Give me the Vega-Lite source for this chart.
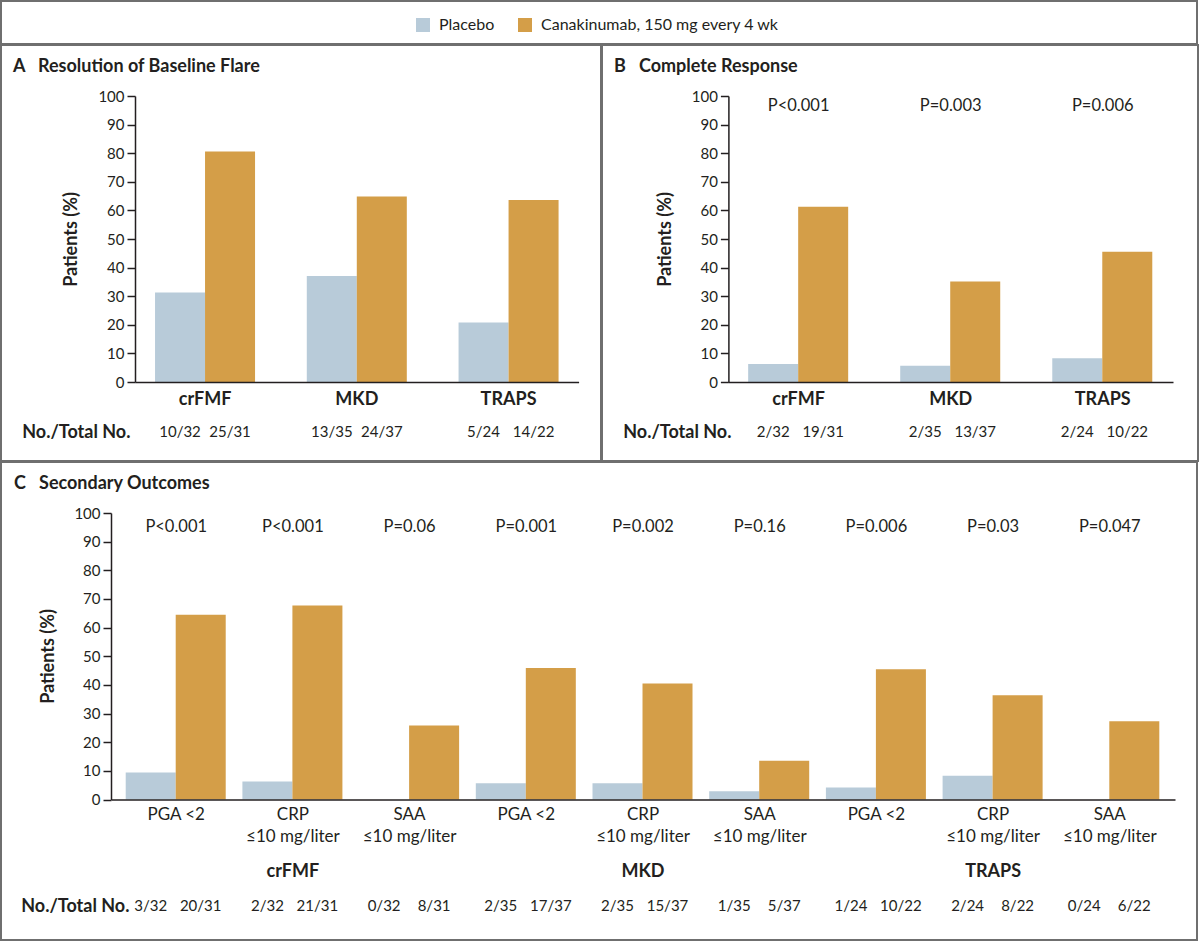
{
  "$schema": "https://vega.github.io/schema/vega-lite/v6.json",
  "background": "white",
  "padding": 0,
  "spacing": -2,
  "datasets": {
    "strip": [{"t": ""}],
    "A": [
      {"disease": "crFMF", "series": "Placebo", "value": 31.3, "count": "10/32"},
      {"disease": "crFMF", "series": "Canakinumab, 150 mg every 4 wk", "value": 80.6, "count": "25/31"},
      {"disease": "MKD", "series": "Placebo", "value": 37.1, "count": "13/35"},
      {"disease": "MKD", "series": "Canakinumab, 150 mg every 4 wk", "value": 64.9, "count": "24/37"},
      {"disease": "TRAPS", "series": "Placebo", "value": 20.8, "count": "5/24"},
      {"disease": "TRAPS", "series": "Canakinumab, 150 mg every 4 wk", "value": 63.6, "count": "14/22"}
    ],
    "B": [
      {"disease": "crFMF", "series": "Placebo", "value": 6.3, "count": "2/32"},
      {"disease": "crFMF", "series": "Canakinumab, 150 mg every 4 wk", "value": 61.3, "count": "19/31"},
      {"disease": "MKD", "series": "Placebo", "value": 5.7, "count": "2/35"},
      {"disease": "MKD", "series": "Canakinumab, 150 mg every 4 wk", "value": 35.1, "count": "13/37"},
      {"disease": "TRAPS", "series": "Placebo", "value": 8.3, "count": "2/24"},
      {"disease": "TRAPS", "series": "Canakinumab, 150 mg every 4 wk", "value": 45.5, "count": "10/22"}
    ],
    "Bp": [
      {"disease": "crFMF", "p": "P<0.001"},
      {"disease": "MKD", "p": "P=0.003"},
      {"disease": "TRAPS", "p": "P=0.006"}
    ],
    "C": [
      {"key": "crFMF PGA", "series": "Placebo", "value": 9.4, "count": "3/32"},
      {"key": "crFMF PGA", "series": "Canakinumab, 150 mg every 4 wk", "value": 64.5, "count": "20/31"},
      {"key": "crFMF CRP", "series": "Placebo", "value": 6.3, "count": "2/32"},
      {"key": "crFMF CRP", "series": "Canakinumab, 150 mg every 4 wk", "value": 67.7, "count": "21/31"},
      {"key": "crFMF SAA", "series": "Placebo", "value": 0, "count": "0/32"},
      {"key": "crFMF SAA", "series": "Canakinumab, 150 mg every 4 wk", "value": 25.8, "count": "8/31"},
      {"key": "MKD PGA", "series": "Placebo", "value": 5.7, "count": "2/35"},
      {"key": "MKD PGA", "series": "Canakinumab, 150 mg every 4 wk", "value": 45.9, "count": "17/37"},
      {"key": "MKD CRP", "series": "Placebo", "value": 5.7, "count": "2/35"},
      {"key": "MKD CRP", "series": "Canakinumab, 150 mg every 4 wk", "value": 40.5, "count": "15/37"},
      {"key": "MKD SAA", "series": "Placebo", "value": 2.9, "count": "1/35"},
      {"key": "MKD SAA", "series": "Canakinumab, 150 mg every 4 wk", "value": 13.5, "count": "5/37"},
      {"key": "TRAPS PGA", "series": "Placebo", "value": 4.2, "count": "1/24"},
      {"key": "TRAPS PGA", "series": "Canakinumab, 150 mg every 4 wk", "value": 45.5, "count": "10/22"},
      {"key": "TRAPS CRP", "series": "Placebo", "value": 8.3, "count": "2/24"},
      {"key": "TRAPS CRP", "series": "Canakinumab, 150 mg every 4 wk", "value": 36.4, "count": "8/22"},
      {"key": "TRAPS SAA", "series": "Placebo", "value": 0, "count": "0/24"},
      {"key": "TRAPS SAA", "series": "Canakinumab, 150 mg every 4 wk", "value": 27.3, "count": "6/22"}
    ],
    "Cp": [
      {"key": "crFMF PGA", "p": "P<0.001"},
      {"key": "crFMF CRP", "p": "P<0.001"},
      {"key": "crFMF SAA", "p": "P=0.06"},
      {"key": "MKD PGA", "p": "P=0.001"},
      {"key": "MKD CRP", "p": "P=0.002"},
      {"key": "MKD SAA", "p": "P=0.16"},
      {"key": "TRAPS PGA", "p": "P=0.006"},
      {"key": "TRAPS CRP", "p": "P=0.03"},
      {"key": "TRAPS SAA", "p": "P=0.047"}
    ],
    "Cd": [
      {"key": "crFMF CRP", "label": "crFMF"},
      {"key": "MKD CRP", "label": "MKD"},
      {"key": "TRAPS CRP", "label": "TRAPS"}
    ]
  },
  "vconcat": [
    {
      "width": 1196,
      "height": 43,
      "data": {"name": "strip"},
      "mark": {"type": "text"},
      "encoding": {
        "x": {"field": "t", "type": "nominal", "axis": null},
        "y": {"field": "t", "type": "nominal", "axis": null},
        "text": {"field": "t"}
      }
    },
    {
      "spacing": -2,
      "hconcat": [
        {
          "width": 600,
          "height": 416,
          "title": {"text": "A\u00a0\u00a0 Resolution of Baseline Flare", "anchor": "start", "frame": "group", "orient": "top", "offset": -44.7, "baseline": "alphabetic", "dx": 12, "fontSize": 18, "fontWeight": "bold"},
          "data": {"name": "A"},
          "encoding": {
            "x": {"field": "disease", "type": "nominal", "sort": null,
              "scale": {"range": [134, 577.6], "paddingInner": 0.341, "paddingOuter": 0.132},
              "axis": {"title": "No./Total No.", "orient": "bottom", "offset": -79, "ticks": false, "zindex": 1, "labelFontSize": 18, "labelFontWeight": "bold", "labelPadding": 8, "labelAngle": 0, "titleFontSize": 18, "titleFontWeight": "bold", "titleX": 129, "titleY": 50, "titleAlign": "right", "titleBaseline": "middle", "titleAngle": 0}}
          },
          "layer": [
            {
              "mark": {"type": "bar"},
              "encoding": {
                "xOffset": {"field": "series", "type": "nominal", "scale": {"domain": ["Placebo", "Canakinumab, 150 mg every 4 wk"], "paddingInner": 0, "paddingOuter": 0}},
                "y": {"field": "value", "type": "quantitative",
                  "scale": {"domain": [0, 100], "range": [337, 51], "nice": false},
                  "axis": {"title": "Patients (%)", "values": [0, 10, 20, 30, 40, 50, 60, 70, 80, 90, 100], "offset": -134, "tickSize": 8, "labelFontSize": 15, "labelPadding": 3, "titleFontSize": 18, "titleFontWeight": "bold", "titleX": -54.5, "titleY": 194, "titleBaseline": "bottom"}},
                "color": {"field": "series", "type": "nominal",
                  "scale": {"domain": ["Placebo", "Canakinumab, 150 mg every 4 wk"], "range": ["#b8cbd9", "#d49e48"]},
                  "legend": {"title": null, "orient": "none", "legendX": 414, "legendY": 16, "direction": "horizontal", "symbolType": "square", "symbolSize": 196, "symbolStrokeWidth": 0, "labelFontSize": 16, "labelOffset": 8, "columnPadding": 22, "labelLimit": 400}}
              }
            },
            {
              "mark": {"type": "text", "baseline": "middle", "dy": 50, "fontSize": 15},
              "encoding": {
                "xOffset": {"field": "series", "type": "nominal"},
                "y": {"datum": 0},
                "text": {"field": "count"}
              }
            }
          ]
        },
        {
          "width": 596,
          "height": 416,
          "title": {"text": "B\u00a0\u00a0 Complete Response", "anchor": "start", "frame": "group", "orient": "top", "offset": -44.7, "baseline": "alphabetic", "dx": 12, "fontSize": 18, "fontWeight": "bold"},
          "encoding": {
            "x": {"field": "disease", "type": "nominal", "sort": null,
              "scale": {"range": [126.4, 571], "paddingInner": 0.336, "paddingOuter": 0.13},
              "axis": {"title": "No./Total No.", "orient": "bottom", "offset": -79, "ticks": false, "zindex": 1, "labelFontSize": 18, "labelFontWeight": "bold", "labelPadding": 8, "labelAngle": 0, "titleFontSize": 18, "titleFontWeight": "bold", "titleX": 129, "titleY": 50, "titleAlign": "right", "titleBaseline": "middle", "titleAngle": 0}}
          },
          "layer": [
            {
              "data": {"name": "B"},
              "mark": {"type": "bar"},
              "encoding": {
                "xOffset": {"field": "series", "type": "nominal", "scale": {"domain": ["Placebo", "Canakinumab, 150 mg every 4 wk"], "paddingInner": 0, "paddingOuter": 0}},
                "y": {"field": "value", "type": "quantitative",
                  "scale": {"domain": [0, 100], "range": [337, 51], "nice": false},
                  "axis": {"title": "Patients (%)", "values": [0, 10, 20, 30, 40, 50, 60, 70, 80, 90, 100], "offset": -126.4, "tickSize": 8, "labelFontSize": 15, "labelPadding": 3, "titleFontSize": 18, "titleFontWeight": "bold", "titleX": -54.4, "titleY": 194, "titleBaseline": "bottom"}},
                "color": {"field": "series", "type": "nominal",
                  "scale": {"domain": ["Placebo", "Canakinumab, 150 mg every 4 wk"], "range": ["#b8cbd9", "#d49e48"]},
                  "legend": {"title": null, "orient": "none", "legendX": 414, "legendY": 16, "direction": "horizontal", "symbolType": "square", "symbolSize": 196, "symbolStrokeWidth": 0, "labelFontSize": 16, "labelOffset": 8, "columnPadding": 22, "labelLimit": 400}}
              }
            },
            {
              "data": {"name": "B"},
              "mark": {"type": "text", "baseline": "middle", "dy": 50, "fontSize": 15},
              "encoding": {
                "xOffset": {"field": "series", "type": "nominal"},
                "y": {"datum": 0},
                "text": {"field": "count"}
              }
            },
            {
              "data": {"name": "Bp"},
              "mark": {"type": "text", "baseline": "middle", "dy": 9.5, "fontSize": 16.5},
              "encoding": {
                "y": {"datum": 100},
                "text": {"field": "p"}
              }
            }
          ]
        }
      ]
    },
    {
      "width": 1196,
      "height": 478,
      "title": {"text": "C\u00a0\u00a0 Secondary Outcomes", "anchor": "start", "frame": "group", "orient": "top", "offset": -45, "baseline": "alphabetic", "dx": 13, "fontSize": 18, "fontWeight": "bold"},
      "encoding": {
        "x": {"field": "key", "type": "nominal",
          "scale": {"domain": ["crFMF PGA", "crFMF CRP", "crFMF SAA", "MKD PGA", "MKD CRP", "MKD SAA", "TRAPS PGA", "TRAPS CRP", "TRAPS SAA"], "range": [110, 1174], "paddingInner": 0.1345, "paddingOuter": 0.126},
          "axis": {"title": "No./Total No.", "orient": "bottom", "offset": -140.5, "ticks": false, "zindex": 1, "labelFontSize": 17, "labelPadding": 7, "labelAngle": 0, "labelLineHeight": 21.5,
            "labelExpr": "indexof(datum.label, 'PGA') >= 0 ? 'PGA <2' : [indexof(datum.label, 'CRP') >= 0 ? 'CRP' : 'SAA', '≤10 mg/liter']",
            "titleFontSize": 18, "titleFontWeight": "bold", "titleX": 128, "titleY": 106.5, "titleAlign": "right", "titleBaseline": "middle", "titleAngle": 0}}
      },
      "layer": [
        {
          "data": {"name": "C"},
          "mark": {"type": "bar"},
          "encoding": {
            "xOffset": {"field": "series", "type": "nominal", "scale": {"domain": ["Placebo", "Canakinumab, 150 mg every 4 wk"], "paddingInner": 0, "paddingOuter": 0}},
            "y": {"field": "value", "type": "quantitative",
              "scale": {"domain": [0, 100], "range": [337.5, 51], "nice": false},
              "axis": {"title": "Patients (%)", "values": [0, 10, 20, 30, 40, 50, 60, 70, 80, 90, 100], "offset": -110, "tickSize": 8, "labelFontSize": 15, "labelPadding": 3, "titleFontSize": 18, "titleFontWeight": "bold", "titleX": -54, "titleY": 194, "titleBaseline": "bottom"}},
            "color": {"field": "series", "type": "nominal",
              "scale": {"domain": ["Placebo", "Canakinumab, 150 mg every 4 wk"], "range": ["#b8cbd9", "#d49e48"]},
              "legend": {"title": null, "orient": "none", "legendX": 414, "legendY": 16, "direction": "horizontal", "symbolType": "square", "symbolSize": 196, "symbolStrokeWidth": 0, "labelFontSize": 16, "labelOffset": 8, "columnPadding": 22, "labelLimit": 400}}
          }
        },
        {
          "data": {"name": "C"},
          "mark": {"type": "text", "baseline": "middle", "dy": 106.5, "fontSize": 15},
          "encoding": {
            "xOffset": {"field": "series", "type": "nominal"},
            "y": {"datum": 0},
            "text": {"field": "count"}
          }
        },
        {
          "data": {"name": "Cp"},
          "mark": {"type": "text", "baseline": "middle", "dy": 13.5, "fontSize": 16.5},
          "encoding": {
            "y": {"datum": 100},
            "text": {"field": "p"}
          }
        },
        {
          "data": {"name": "Cd"},
          "mark": {"type": "text", "baseline": "middle", "dy": 72.5, "fontSize": 18, "fontWeight": "bold"},
          "encoding": {
            "y": {"datum": 0},
            "text": {"field": "label"}
          }
        }
      ]
    }
  ],
  "config": {
    "font": "Lato",
    "view": {"stroke": "#6f6f6f", "strokeWidth": 2},
    "axis": {"domainColor": "#231f20", "domainWidth": 1.5, "tickColor": "#231f20", "tickWidth": 1.5, "labelColor": "#231f20", "titleColor": "#231f20", "grid": false, "labelFont": "Lato", "titleFont": "Lato"},
    "text": {"font": "Lato", "color": "#231f20"},
    "title": {"font": "Lato", "color": "#231f20"},
    "legend": {"labelColor": "#231f20", "labelFont": "Lato"}
  }
}
